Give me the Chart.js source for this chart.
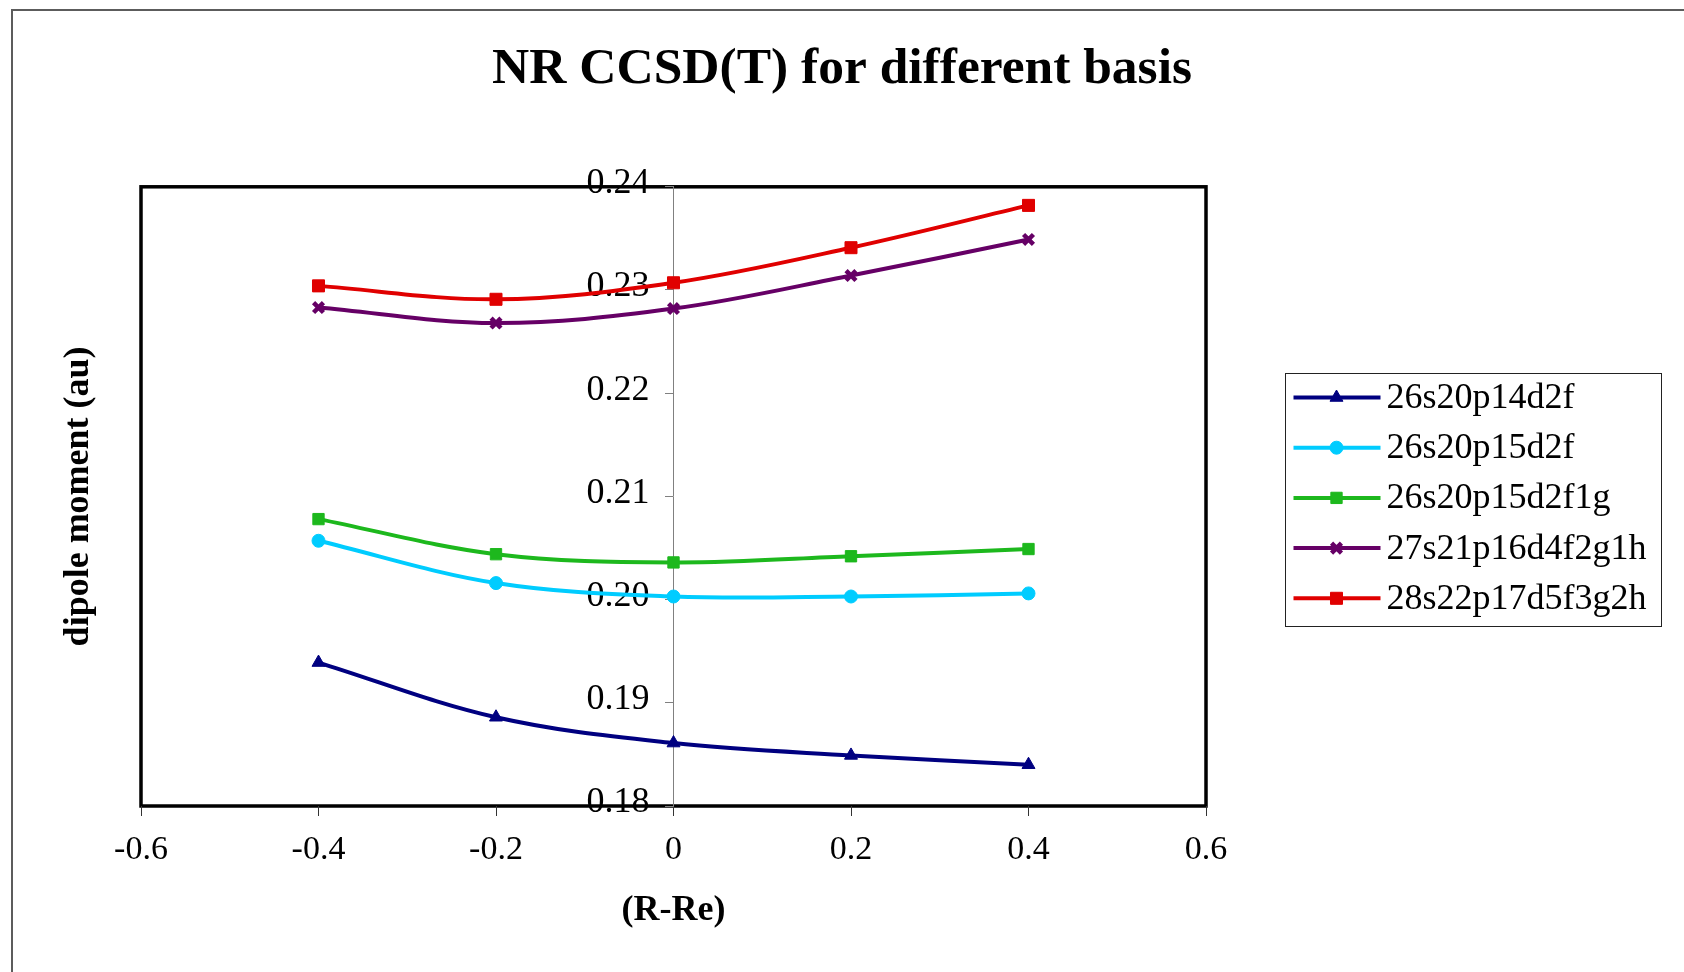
<!DOCTYPE html>
<html>
<head>
<meta charset="utf-8">
<title>NR CCSD(T) for different basis</title>
<script src="https://cdn.jsdelivr.net/npm/chart.js@4.4.1/dist/chart.umd.min.js"></script>
<style>
  html, body { margin: 0; padding: 0; background: #ffffff; overflow: hidden; }
  #wrap { position: relative; width: 1684px; height: 972px; }
  #frame {
    position: absolute; left: 11px; top: 9px; right: 0; bottom: 0;
    border-top: 2px solid #5c5c5c; border-left: 2px solid #5c5c5c;
    pointer-events: none;
  }
  canvas { display: block; }
</style>
</head>
<body>
<div id="wrap">
  <canvas id="chart" width="1684" height="972"></canvas>
  <div id="frame"></div>
</div>
<script>
// Bond displacement (R - Re) in the sampled geometries
const xValues = [-0.4, -0.2, 0, 0.2, 0.4];

// Dipole moment (au) for each basis set
const basis26s20p14d2f     = [0.1939, 0.1886, 0.1861, 0.1849, 0.1840];
const basis26s20p15d2f     = [0.2057, 0.2016, 0.2003, 0.2003, 0.2006];
const basis26s20p15d2f1g   = [0.2078, 0.2044, 0.2036, 0.2042, 0.2049];
const basis27s21p16d4f2g1h = [0.2283, 0.2268, 0.2282, 0.2314, 0.2349];
const basis28s22p17d5f3g2h = [0.2304, 0.2291, 0.2307, 0.2341, 0.2382];

const seriesNames = ['26s20p14d2f', '26s20p15d2f', '26s20p15d2f1g', '27s21p16d4f2g1h', '28s22p17d5f3g2h'];

// Axis ticks
const xTickValues = [-0.6, -0.4, -0.2, 0, 0.2, 0.4, 0.6];
const xTickLabels = ['-0.6', '-0.4', '-0.2', '0', '0.2', '0.4', '0.6'];
const yTickValues = [0.18, 0.19, 0.20, 0.21, 0.22, 0.23, 0.24];
const yTickLabels = ['0.18', '0.19', '0.20', '0.21', '0.22', '0.23', '0.24'];

const SERIF = "'Liberation Serif', 'Times New Roman', serif";

const styles = [
  { color: '#000080', pointStyle: 'triangle', radius: 7.5, borderWidth: 1 },
  { color: '#00CCFF', pointStyle: 'circle',   radius: 6.5, borderWidth: 1 },
  { color: '#1DB81D', pointStyle: 'rect',     radius: 8,   borderWidth: 1 },
  { color: '#660066', pointStyle: 'crossRot', radius: 7,   borderWidth: 4.5 },
  { color: '#E00000', pointStyle: 'rect',     radius: 8.5, borderWidth: 1 }
];

const seriesValues = [basis26s20p14d2f, basis26s20p15d2f, basis26s20p15d2f1g, basis27s21p16d4f2g1h, basis28s22p17d5f3g2h];

const datasets = seriesValues.map((vals, i) => ({
  label: seriesNames[i],
  data: vals.map((v, j) => ({ x: xValues[j], y: v })),
  yAxisID: 'y',
  borderColor: styles[i].color,
  backgroundColor: styles[i].color,
  pointBackgroundColor: styles[i].color,
  pointBorderColor: styles[i].color,
  pointStyle: styles[i].pointStyle,
  pointRadius: styles[i].radius,
  pointBorderWidth: styles[i].borderWidth,
  borderWidth: 4,
  tension: 0.35,
  fill: false
}));

// Thick black box around the plotting area
const plotFrame = {
  id: 'plotFrame',
  beforeDraw(chart) {
    const { ctx, chartArea: a } = chart;
    ctx.save();
    ctx.strokeStyle = '#000000';
    ctx.lineWidth = 3.5;
    ctx.strokeRect(a.left, a.top, a.right - a.left, a.bottom - a.top);
    ctx.restore();
  }
};

// Boxed legend to the right of the plot: line sample with marker, then the name
const boxedLegend = {
  id: 'boxedLegend',
  afterDraw(chart) {
    const { ctx, chartArea: a } = chart;
    const left = a.right + 79.5, top = 373.5, width = 376, height = 253;
    const rowGap = 50.2, firstRow = top + 24;
    ctx.save();
    ctx.strokeStyle = '#222222';
    ctx.lineWidth = 1;
    ctx.strokeRect(left, top, width, height);
    chart.data.datasets.forEach((ds, i) => {
      const y = firstRow + i * rowGap;
      ctx.strokeStyle = ds.borderColor;
      ctx.lineWidth = 4;
      ctx.beginPath();
      ctx.moveTo(left + 8, y);
      ctx.lineTo(left + 95, y);
      ctx.stroke();
      ctx.fillStyle = ds.pointBackgroundColor;
      ctx.strokeStyle = ds.pointBorderColor;
      ctx.lineWidth = ds.pointBorderWidth;
      Chart.helpers.drawPoint(ctx, {
        pointStyle: ds.pointStyle,
        radius: ds.pointRadius,
        borderWidth: ds.pointBorderWidth,
        rotation: 0
      }, left + 51, y);
      ctx.fillStyle = '#000000';
      ctx.font = '36px ' + SERIF;
      ctx.textBaseline = 'middle';
      ctx.textAlign = 'left';
      ctx.fillText(ds.label, left + 101, y + 1);
    });
    ctx.restore();
  }
};

new Chart(document.getElementById('chart'), {
  type: 'line',
  data: { datasets },
  plugins: [plotFrame, boxedLegend],
  options: {
    responsive: false,
    devicePixelRatio: 1,
    animation: false,
    layout: { padding: 0 },
    plugins: {
      legend: { display: false },
      tooltip: { enabled: false },
      title: {
        display: true,
        text: 'NR CCSD(T) for different basis',
        color: '#000000',
        font: { family: SERIF, size: 51.5, weight: 'bold' },
        padding: { top: 39, bottom: 86 }
      }
    },
    scales: {
      x: {
        type: 'linear',
        position: 'bottom',
        min: -0.6,
        max: 0.6,
        afterBuildTicks: (s) => { s.ticks = xTickValues.map(v => ({ value: v })); },
        afterFit: (s) => { s.height = 166; },
        ticks: {
          autoSkip: false,
          maxRotation: 0,
          padding: 14,
          color: '#000000',
          font: { family: SERIF, size: 34 },
          callback: (v, i) => xTickLabels[i]
        },
        grid: { drawOnChartArea: false, drawTicks: true, tickLength: 10, color: '#333333', lineWidth: 1 },
        border: { display: false },
        title: {
          display: true,
          text: '(R-Re)',
          color: '#000000',
          font: { family: SERIF, size: 36, weight: 'bold' },
          padding: { top: 0, bottom: 40 }
        }
      },
      // Value axis crossing at x = 0: gray line with small outside tick marks
      y: {
        type: 'linear',
        position: { x: 0 },
        min: 0.18,
        max: 0.24,
        afterBuildTicks: (s) => { s.ticks = yTickValues.map(v => ({ value: v })); },
        ticks: { display: false },
        grid: { drawOnChartArea: false, drawTicks: true, tickLength: 8, color: '#808080', lineWidth: 1 },
        border: { display: true, color: '#808080', width: 1 }
      },
      // Its labels, set just left of the tick marks
      yLabels: {
        type: 'linear',
        position: { x: -0.027 },
        min: 0.18,
        max: 0.24,
        afterBuildTicks: (s) => { s.ticks = yTickValues.map(v => ({ value: v })); },
        ticks: {
          autoSkip: false,
          labelOffset: -3,
          color: '#000000',
          font: { family: SERIF, size: 36 },
          callback: (v, i) => yTickLabels[i]
        },
        grid: { display: false },
        border: { display: false }
      },
      yTitle: {
        type: 'linear',
        position: 'left',
        min: 0.18,
        max: 0.24,
        afterFit: (s) => { s.width = 141; },
        ticks: { display: false },
        grid: { display: false },
        border: { display: false },
        title: {
          display: true,
          text: 'dipole moment (au)',
          color: '#000000',
          font: { family: SERIF, size: 36, weight: 'bold' },
          padding: { top: 57, bottom: 0 }
        }
      },
      yLegendSpace: {
        type: 'linear',
        position: 'right',
        afterFit: (s) => { s.width = 478; },
        ticks: { display: false },
        grid: { display: false },
        border: { display: false }
      }
    }
  }
});
</script>
</body>
</html>
